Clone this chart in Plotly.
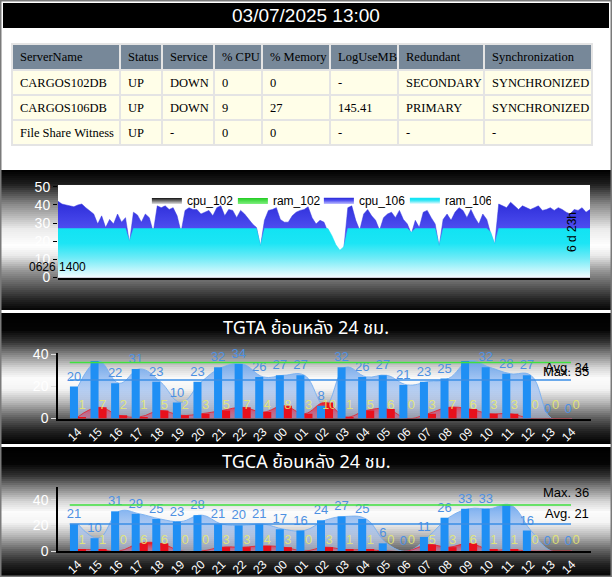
import numpy as np
import pandas as pd
import plotly.graph_objects as go

W, H = 612, 577
SANS = "Liberation Sans, Arial, sans-serif"
SERIF = "Liberation Serif, Times New Roman, serif"
THAI = "Tahoma, Noto Sans Thai, Loma, Garuda, Liberation Sans, sans-serif"

stamp = "03/07/2025 13:00"

# status table
tbl_header = ["ServerName", "Status", "Service", "% CPU", "% Memory", "LogUseMB", "Redundant", "Synchronization"]
server_name = ["CARGOS102DB", "CARGOS106DB", "File Share Witness"]
status = ["UP", "UP", "UP"]
service = ["DOWN", "DOWN", "-"]
cpu_pct = ["0", "9", "0"]
mem_pct = ["0", "27", "0"]
log_use = ["-", "145.41", "-"]
redundant = ["SECONDARY", "PRIMARY", "-"]
sync_state = ["SYNCHRONIZED", "SYNCHRONIZED", "-"]

# 7 day trend (cpu / ram %)
trend_start = "2025-06-26 14:00"
trend_end = "2025-07-03 13:00"
cpu_106 = [42, 40.5, 40, 39.5, 39, 40, 40.5, 38.5, 36.5, 35, 29.5, 34, 27.5, 32, 29.5,
           35, 30.5, 33, 19, 36, 34.5, 30.5, 35, 33, 25, 39.5, 38.5, 39.5, 37.5, 38.5,
           34, 25, 37, 38.5, 37.5, 37.5, 35, 36, 37, 34, 38.5, 39.5, 34, 37.5, 37,
           33, 37, 35, 32, 29.5, 27.5, 17, 31.5, 37, 37.5, 38.5, 32, 30.5, 30.5, 34,
           36, 37, 37.5, 39, 33, 29.5, 31.5, 30.5, 25, 21, 16, 14, 16, 38.5, 39.5,
           31.5, 26, 35, 37.5, 34, 31.5, 26, 33, 35, 36, 33, 37, 32, 29.5, 24,
           31.5, 27.5, 36, 37, 33, 29.5, 17, 32, 35, 31.5, 36, 38.5, 37, 33, 37.5,
           33, 29.5, 35, 32, 24, 18, 40.5, 39.5, 38.5, 41.5, 39.5, 37.5, 39.5, 38.5, 37.5,
           38.5, 39.5, 37, 37.5, 38.5, 37, 38.5, 37.5, 36, 35, 37.5, 37, 38.5, 36, 37.5]
ram_106 = [27, 27, 27, 27, 27, 27, 27, 27, 27, 27, 27, 27, 27, 27, 27,
           27, 27, 27, 20, 27, 27, 27, 27, 27, 27, 27, 27, 27, 27, 27,
           27, 27, 27, 27, 27, 27, 27, 27, 27, 27, 27, 27, 27, 27, 27,
           27, 27, 27, 27, 27, 27, 17.5, 27, 27, 27, 27, 27, 27, 27, 27,
           27, 27, 27, 27, 27, 27, 27, 27, 27, 23, 18, 15, 17, 27, 27,
           27, 27, 27, 27, 27, 27, 27, 27, 27, 27, 27, 27, 27, 27, 25,
           27, 27, 27, 27, 27, 27, 17.5, 27, 27, 27, 27, 27, 27, 27, 27,
           27, 27, 27, 27, 25, 18.5, 27, 27, 27, 27, 27, 27, 27, 27, 27,
           27, 27, 27, 27, 27, 27, 27, 27, 27, 27, 27, 27, 27, 27, 27]
# secondary node reports nothing
cpu_102 = [0] * len(cpu_106)
ram_102 = [0] * len(cpu_106)

# hourly charts
hours = ["14", "15", "16", "17", "18", "19", "20", "21", "22", "23", "00", "01", "02",
         "03", "04", "05", "06", "07", "08", "09", "10", "11", "12", "13", "14"]
tgta_main = [20, 36, 22, 31, 23, 10, 23, 32, 34, 26, 27, 27, 8, 32, 26, 27, 21, 23, 25, 36, 32, 28, 27, 0, 0]
tgta_sub = [1, 7, 2, 1, 5, 2, 3, 5, 7, 4, 8, 3, 10, 1, 5, 6, 0, 3, 7, 6, 3, 3, 0, 0, 0]
tgta_max, tgta_avg = 35, 24
tgca_main = [21, 10, 31, 29, 25, 23, 28, 21, 20, 21, 17, 16, 24, 27, 25, 6, 0, 11, 26, 33, 33, 36, 16, 0, 0]
tgca_sub = [1, 1, 0, 6, 6, 0, 0, 3, 3, 4, 3, 0, 3, 1, 1, 0, 0, 5, 3, 6, 1, 1, 0, 0, 0]
tgca_max, tgca_avg = 36, 21


def py(px):
    return 1 - px / H


def px_x(px):
    return px / W


def nb(s):
    # keep table texts on one line
    return s.replace(" ", "\u00a0")


#metallic panel backgrounds made of thin strips
metal1 = [(0, 0), (0.1, 30), (0.25, 140), (0.42, 235), (0.54, 255), (0.61, 235), (0.72, 150), (0.82, 95), (0.93, 35), (1, 5)]
metal2 = [(0, 0), (0.13, 5), (0.22, 50), (0.3, 120), (0.42, 215), (0.5, 252), (0.58, 245), (0.68, 185), (0.8, 95), (0.9, 35), (1, 0)]


def strips(top, bottom, stops, step=2):
    fr = [s[0] for s in stops]
    gv = [s[1] for s in stops]
    out = []
    y = top
    while y < bottom:
        t = (y + step / 2 - top) / (bottom - top)
        g = int(np.interp(t, fr, gv))
        out.append(dict(type="rect", xref="paper", yref="paper", x0=0, x1=1,
                        y0=py(min(y + step + 0.6, bottom)), y1=py(y),
                        fillcolor=f"rgb({g},{g},{g})", line_width=0, layer="below"))
        y += step
    return out


shapes = []
shapes += strips(170, 310, metal1)
shapes += strips(313, 444, metal2)
shapes += strips(447, 577, metal2)
# title bar
shapes.append(dict(type="rect", xref="paper", yref="paper", x0=px_x(3), x1=px_x(609), y0=py(28), y1=py(3),
                   fillcolor="black", line_width=0, layer="below"))
# white plot area of the trend chart
shapes.append(dict(type="rect", xref="x domain", yref="y domain", x0=0, x1=1, y0=0, y1=1,
                   fillcolor="white", line_width=0, layer="below"))

fig = go.Figure()

fig.add_trace(go.Table(
    domain=dict(x=[px_x(12), px_x(592)], y=[py(147), py(44)]),
    columnwidth=[108, 42, 52, 48, 68, 68, 86, 108],
    header=dict(values=[nb(h) for h in tbl_header], fill_color="#778899", align="left", height=26,
                font=dict(family=SERIF, size=12.5, color="black"),
                line=dict(color="#e4e4e4", width=2)),
    cells=dict(values=[[nb(s) for s in col] for col in
                       [server_name, status, service, cpu_pct, mem_pct, log_use, redundant, sync_state]],
               fill_color="#fffee8", align="left", height=25,
               font=dict(family=SERIF, size=12.5, color="black"),
               line=dict(color="#e4e4e4", width=2)),
))

t = pd.date_range(trend_start, trend_end, periods=len(cpu_106))

fig.add_trace(go.Scatter(x=t, y=cpu_102, name="cpu_102", mode="lines", fill="tozeroy",
                         line=dict(color="#555555", width=0),
                         fillgradient=dict(type="vertical", start=0, stop=1,
                                           colorscale=[[0, "#e0e0e0"], [1, "#111111"]]),
                         xaxis="x", yaxis="y"))
fig.add_trace(go.Scatter(x=t, y=ram_102, name="ram_102", mode="lines", fill="tozeroy",
                         line=dict(color="#33dd33", width=0),
                         fillgradient=dict(type="vertical", start=0, stop=1,
                                           colorscale=[[0, "#80f080"], [1, "#22cc22"]]),
                         xaxis="x", yaxis="y"))
fig.add_trace(go.Scatter(x=t, y=cpu_106, name="cpu_106", mode="lines", fill="tozeroy",
                         line=dict(color="#3434e0", width=0.5),
                         fillgradient=dict(type="vertical", start=0, stop=43,
                                           colorscale=[[0, "#c0c0ff"], [0.6, "#5050f2"], [1, "#2a2ad6"]]),
                         xaxis="x", yaxis="y"))
fig.add_trace(go.Scatter(x=t, y=ram_106, name="ram_106", mode="lines", fill="tozeroy",
                         line=dict(color="#14e4f4", width=0.5),
                         fillgradient=dict(type="vertical", start=0, stop=27,
                                           colorscale=[[0, "#f2fcff"], [0.4, "#6eebf7"], [0.7, "#1ce5f5"], [1, "#12e3f3"]]),
                         xaxis="x", yaxis="y"))


def hourly(main, sub, mx, xa, ya, yo):
    idx = list(range(len(main)))
    fig.add_trace(go.Scatter(x=idx, y=main, mode="lines", fill="tozeroy", showlegend=False,
                             line=dict(color="rgba(120,175,240,0.9)", width=1, shape="spline", smoothing=1.2),
                             fillgradient=dict(type="vertical", start=0, stop=max(main),
                                               colorscale=[[0, "rgba(205,215,245,0.5)"], [1, "rgba(105,165,238,0.92)"]]),
                             xaxis=xa, yaxis=ya, hoverinfo="skip"))
    fig.add_trace(go.Scatter(x=idx, y=sub, mode="lines", fill="tozeroy", showlegend=False,
                             line=dict(color="rgba(230,30,40,0.8)", width=1, shape="spline", smoothing=1.2),
                             fillgradient=dict(type="vertical", start=0, stop=max(sub),
                                               colorscale=[[0, "rgba(210,70,130,0.35)"], [1, "rgba(238,20,30,0.95)"]]),
                             xaxis=xa, yaxis=ya, hoverinfo="skip"))
    fig.add_trace(go.Bar(x=idx, y=main, marker=dict(color="#1f8ff4", line_width=0), showlegend=False,
                         text=["" if v >= mx else str(v) for v in main], textposition="outside",
                         textfont=dict(family=SANS, size=13, color="#4d90e2"),
                         constraintext="none", cliponaxis=False, xaxis=xa, yaxis=yo))
    fig.add_trace(go.Bar(x=idx, y=sub, marker=dict(color="#e8101c", line_width=0), showlegend=False,
                         xaxis=xa, yaxis=yo))
    # value labels of the second series sit low on the chart
    fig.add_trace(go.Scatter(x=[i + 0.2 for i in idx], y=[8] * len(sub), mode="text",
                             text=[str(v) for v in sub], showlegend=False, cliponaxis=False,
                             textfont=dict(family=SANS, size=13, color="rgba(232,236,110,0.85)"),
                             xaxis=xa, yaxis=yo, hoverinfo="skip"))


hourly(tgta_main, tgta_sub, tgta_max, "x2", "y2", "y4")
hourly(tgca_main, tgca_sub, tgca_max, "x3", "y3", "y5")

for xd, yo, mx, av in [("x2 domain", "y4", tgta_max, tgta_avg), ("x3 domain", "y5", tgca_max, tgca_avg)]:
    shapes.append(dict(type="line", xref=xd, yref=yo, x0=0.022, x1=0.9625, y0=mx, y1=mx,
                       line=dict(color="#3fe03f", width=1.5), layer="above"))
    shapes.append(dict(type="line", xref=xd, yref=yo, x0=0.022, x1=0.9625, y0=av, y1=av,
                       line=dict(color="#3a8ee6", width=1.5), layer="above"))

# outer frame
shapes.append(dict(type="rect", xref="paper", yref="paper", x0=0, x1=1, y0=0, y1=1,
                   line=dict(color="#7a7a7a", width=3), layer="above"))


def note(text, x, y, size, color, family=SANS, **kw):
    return dict(text=text, x=x, y=y, xref="paper", yref="paper", showarrow=False,
                xanchor="center", yanchor="middle", font=dict(family=family, size=size, color=color), **kw)


annotations = [
    note(stamp, 0.5, py(15), 19, "white"),
    note("TGTA ย้อนหลัง 24 ชม.", 0.5, py(328), 18, "white", THAI),
    note("TGCA ย้อนหลัง 24 ชม.", 0.5, py(462), 18, "white", THAI),
    note("0626 1400", px_x(57), py(267), 12, "black"),
    note("6 d 23h", px_x(572), py(232), 12, "black", textangle=-90),
]
for yo, lbl, val, shift in [("y4", "Max.", tgta_max, -9), ("y4", "Avg.", tgta_avg, 13),
                            ("y5", "Max.", tgca_max, 12), ("y5", "Avg.", tgca_avg, 11)]:
    annotations.append(dict(text=f"{lbl} {val}", x=px_x(591), xanchor="right", xref="paper",
                            y=val, yref=yo, yanchor="middle", yshift=shift, showarrow=False,
                            font=dict(family=SANS, size=13, color="black")))

xdom = [px_x(58), px_x(591)]
hx = dict(domain=xdom, range=[-0.97, 24.92], tickvals=list(range(len(hours))), ticktext=hours,
          tickangle=-45, tickfont=dict(family=SANS, size=12, color="white"), showgrid=False, zeroline=False,
          showline=True, linecolor="black", linewidth=1.5, ticks="", automargin=False)
hy = dict(tickvals=[0, 20, 40], tickfont=dict(family=SANS, size=14, color="white"), showgrid=False,
          zeroline=False, showline=True, linecolor="black", linewidth=1.5, ticks="outside", ticklen=5,
          tickcolor="#dddddd", automargin=False)

fig.update_layout(
    width=W, height=H, autosize=False, margin=dict(l=0, r=0, t=0, b=0, pad=0),
    paper_bgcolor="white", plot_bgcolor="rgba(0,0,0,0)",
    barmode="group", bargap=0.22, bargroupgap=0,
    xaxis=dict(domain=[px_x(58), px_x(590)], anchor="y", range=[t[0], t[-1]], showticklabels=False,
               showgrid=False, zeroline=False, showline=True, linecolor="black", linewidth=2, ticks="",
               automargin=False),
    yaxis=dict(domain=[py(277.5), py(185)], anchor="x", range=[0, 51], tickvals=[0, 10, 20, 30, 40, 50],
               tickfont=dict(family=SANS, size=14, color="white"), showgrid=False, zeroline=False,
               ticks="outside", ticklen=4, tickcolor="black", automargin=False),
    xaxis2=dict(anchor="y2", **hx),
    yaxis2=dict(domain=[py(418.5), py(352.9)], anchor="x2", range=[0, 41], **hy),
    yaxis4=dict(overlaying="y2", anchor="x2", range=[0, 41], visible=False, automargin=False),
    xaxis3=dict(anchor="y3", **hx),
    yaxis3=dict(domain=[py(551), py(487)], anchor="x3", range=[0, 50], **hy),
    yaxis5=dict(overlaying="y3", anchor="x3", range=[0, 50], visible=False, automargin=False),
    legend=dict(orientation="h", x=0.24, y=py(200), xanchor="left", yanchor="middle",
                bgcolor="rgba(0,0,0,0)", font=dict(family=SANS, size=12, color="black"),
                itemwidth=30, entrywidth=41),
    shapes=shapes,
    annotations=annotations,
)

page_js = """
var hs=document.documentElement.style; hs.margin='0'; hs.padding='0'; hs.overflow='hidden';
var bs=document.body.style; bs.margin='0'; bs.padding='0'; bs.overflow='hidden';
var g=document.getElementById('{plot_id}'); g.style.position='absolute'; g.style.left='0px'; g.style.top='0px';
"""
fig.write_html("out.html", config={"displayModeBar": False}, post_script=page_js)
